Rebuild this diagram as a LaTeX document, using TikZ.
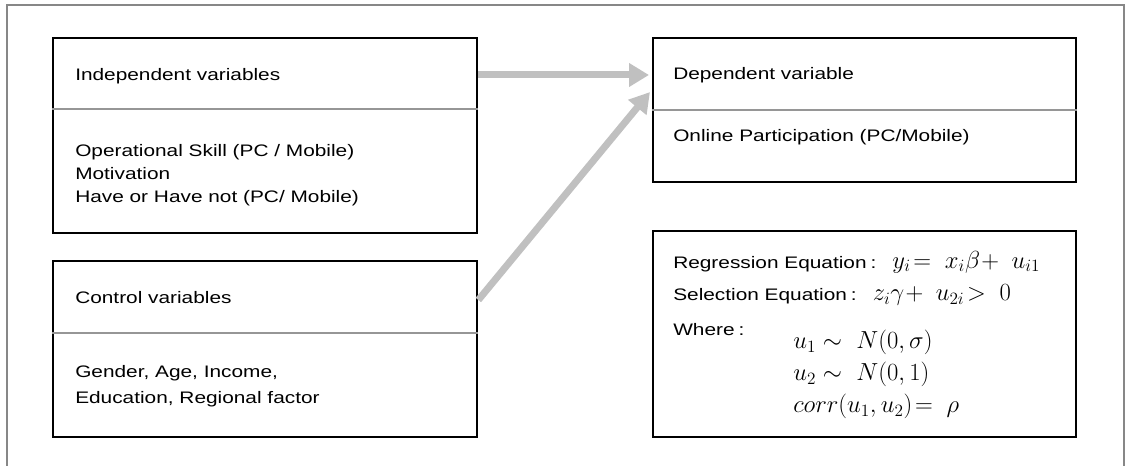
\RequirePackage{fix-cm}
\documentclass[tikz,border=0pt]{standalone}
\usepackage{fontspec}
\usepackage{tikz}
\usetikzlibrary{positioning, arrows.meta, calc}
\newfontfamily\boxfont{Liberation Sans}[FakeStretch=1.25]
\definecolor{framec}{RGB}{135,135,135}
\definecolor{rulec}{RGB}{150,150,150}
\definecolor{flowc}{RGB}{192,192,192}
\newcommand{\meq}[1]{{\fontsize{18.5}{21}\selectfont$#1$}}

\begin{document}
\begin{tikzpicture}[x=0.75pt, y=-0.75pt,
  box/.style={draw, line width=2pt, inner sep=0pt},
  txt/.style={anchor=west, inner sep=0pt, align=left, font=\boxfont\fontsize{12.5}{17.25}\selectfont},
  divider/.style={draw=rulec, line width=0.9pt},
  flow/.style={draw=flowc, line width=5.25pt, -{Triangle[length=15pt, width=17pt]}}]
\useasboundingbox (0,0) rectangle (1127,466);
\draw[framec, line width=1pt] (7,466) -- (7,5) -- (1124,5) -- (1124,466);
% left column
\node[box, minimum width=318pt, minimum height=146.25pt] (indep) at (265,135.5) {};
\node[box, minimum width=318pt, minimum height=132pt] (ctrl) at (265,349) {};
\draw[divider] (indep.west |- 0,109) -- (indep.east |- 0,109);
\draw[divider] (ctrl.west |- 0,333) -- (ctrl.east |- 0,333);
\node[txt] (indephead) at (75,76) {Independent variables};
\node[txt] (indepbody) at (75,175.5) {Operational Skill (PC / Mobile)\\Motivation\\Have or Have not (PC/ Mobile)};
\node[txt] (ctrlhead) at (75,298) {Control variables};
\node[txt, font=\boxfont\fontsize{12.5}{19.5}\selectfont] (ctrlbody) at (75,386) {Gender, Age, Income,\\Education, Regional factor};
% right column
\node[box, minimum width=317.25pt, minimum height=108pt] (dep) at (864.5,110) {};
\node[box, minimum width=317.25pt, minimum height=154.5pt] (model) at (864.5,334) {};
\draw[divider] (dep.west |- 0,110) -- (dep.east |- 0,110);
\node[txt] (dephead) at (673,75) {Dependent variable};
\node[txt] (depbody) at (673,137) {Online Participation (PC/Mobile)};
\node[txt] (regeq) at (673,262) {Regression Equation\hspace{3pt}:\hspace{12pt}\meq{y_i\!=\;x_i\beta\!+\;u_{i1}}};
\node[txt] (seleq) at (673,295) {Selection Equation\hspace{3pt}:\hspace{12pt}\meq{z_i\gamma\!+\;u_{2i}\!>\;0}};
\node[txt] (where) at (673,330) {Where\hspace{3pt}:};
\node[txt, font=\fontsize{18.5}{24}\selectfont] (dist) at (793,374.5) {$u_1\sim\ N(0,\sigma)$\\$u_2\sim\ N(0,1)$\\$corr(u_1,u_2)\!=\;\rho$};
% arrows
\draw[flow, shorten >=2pt] (indep.east |- dephead) -- (dep.west |- dephead);
\draw[flow, shorten >=2pt] ([yshift=36.75pt]ctrl.east) -- ([yshift=15pt]dep.west);
\end{tikzpicture}
\end{document}
